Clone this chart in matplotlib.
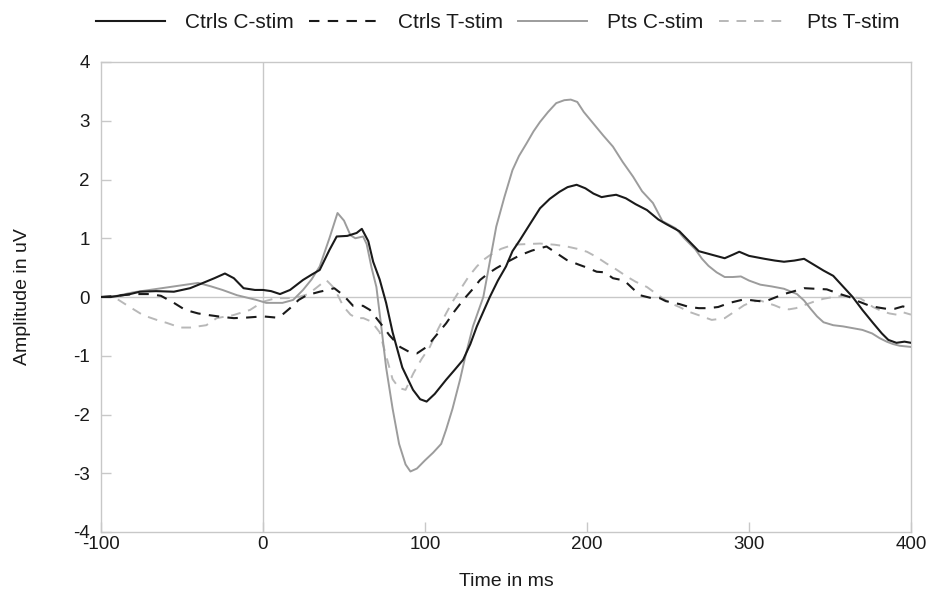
import matplotlib
matplotlib.use("Agg")
import matplotlib.pyplot as plt

plt.rcParams['font.family'] = ['Liberation Sans', 'DejaVu Sans']

# ---- data ----
t_ctrl_c = [-100, -94, -82, -76, -66, -55, -45, -37, -30, -23.5, -18, -12, -5, 0, 5, 10.5, 16.7, 24.7, 30, 35,
            41, 45.5, 52, 57.8, 61, 65, 68, 72, 76, 80, 86, 92.6, 97, 101, 106, 113, 118, 123.5, 128, 132,
            136, 140, 145, 150, 154, 158.6, 165, 171, 177, 183, 188, 193.6, 199, 204, 209, 213, 218, 224,
            230, 237, 244, 249, 257, 263, 269, 277, 285, 290, 294, 300, 309.6, 316, 321.6, 328, 334, 340,
            346, 352, 358, 364, 370, 376.5, 382, 386, 391, 396, 400]
v_ctrl_c = [0, 0, 0.05, 0.09, 0.1, 0.09, 0.15, 0.24, 0.32, 0.40, 0.32, 0.15, 0.12, 0.12, 0.1, 0.05, 0.12, 0.29,
            0.38, 0.46, 0.8, 1.03, 1.04, 1.09, 1.16, 0.95, 0.6, 0.3, -0.1, -0.6, -1.2, -1.58, -1.74, -1.78,
            -1.65, -1.41, -1.25, -1.07, -0.8, -0.5, -0.25, 0, 0.28, 0.52, 0.78, 0.97, 1.25, 1.51, 1.67, 1.79,
            1.87, 1.91, 1.85, 1.76, 1.70, 1.72, 1.74, 1.68, 1.58, 1.48, 1.32, 1.24, 1.12, 0.95, 0.78, 0.72,
            0.66, 0.72, 0.77, 0.70, 0.65, 0.62, 0.6, 0.62, 0.65, 0.55, 0.45, 0.36, 0.18, 0, -0.22, -0.44,
            -0.62, -0.73, -0.78, -0.76, -0.78]

t_ctrl_t = [-100, -90, -80, -70, -63, -55, -48, -40, -33, -25, -18, -10, 0, 8, 12, 16.7, 22, 27, 35, 40, 44,
            49.6, 55.6, 61.7, 66, 70, 74, 78, 84.6, 90, 95, 101, 107, 113, 118, 123.6, 129, 134, 139, 144,
            151, 158.6, 166, 175, 181, 187.5, 195, 200, 206, 211, 216, 223, 228, 232.7, 240, 245, 248.6, 257,
            263, 269, 275, 281, 288, 297, 303, 309.6, 316, 321.6, 328, 334, 341, 348, 355, 362, 368, 374.5,
            380, 384.6, 390, 395, 400]
v_ctrl_t = [0, 0.02, 0.05, 0.05, 0.02, -0.1, -0.22, -0.28, -0.31, -0.34, -0.36, -0.35, -0.33, -0.35, -0.3,
            -0.19, -0.05, 0.03, 0.09, 0.12, 0.15, 0.03, -0.15, -0.15, -0.22, -0.36, -0.5, -0.65, -0.85, -0.93,
            -0.96, -0.85, -0.65, -0.45, -0.25, -0.05, 0.12, 0.29, 0.4, 0.49, 0.6, 0.71, 0.79, 0.86, 0.75, 0.63,
            0.55, 0.5, 0.43, 0.42, 0.32, 0.28, 0.15, 0.03, -0.02, -0.02, -0.07, -0.12, -0.17, -0.19, -0.19,
            -0.17, -0.1, -0.04, -0.06, -0.08, -0.01, 0.05, 0.1, 0.15, 0.14, 0.13, 0.06, 0, -0.08, -0.15,
            -0.18, -0.2, -0.2, -0.16, -0.2]

t_pts_c = [-100, -90, -80, -70, -60, -50, -40, -32, -25, -16, -4, 2, 12, 18.6, 24.7, 30, 35, 41, 46, 50, 54,
           57, 61.8, 64, 67, 70, 73, 76, 80, 84, 88, 91, 95, 100, 105, 110, 113, 117, 121.6, 125, 129.6, 136,
           140, 144, 149, 154, 158, 162.8, 167, 171, 176, 181, 186, 190, 194, 198, 203.7, 210, 216, 222,
           228.4, 234, 240.7, 246.6, 250, 254.7, 260, 266.9, 271, 275, 280, 285, 290, 295, 300, 307, 314,
           321.6, 329.6, 334, 338, 342, 346, 352, 358, 364, 370, 376, 380.6, 385, 388.8, 393, 400]
v_pts_c = [0, 0.02, 0.08, 0.12, 0.16, 0.2, 0.24, 0.18, 0.12, 0.03, -0.05, -0.1, -0.1, -0.05, 0.12, 0.3, 0.52,
           1.0, 1.43, 1.3, 1.05, 1.0, 1.03, 0.9, 0.5, 0.17, -0.5, -1.2, -1.9, -2.5, -2.85, -2.97, -2.92,
           -2.78, -2.65, -2.5, -2.26, -1.9, -1.41, -1.0, -0.5, 0, 0.6, 1.2, 1.7, 2.16, 2.4, 2.62, 2.82, 2.98,
           3.15, 3.3, 3.35, 3.36, 3.32, 3.15, 2.96, 2.75, 2.56, 2.3, 2.05, 1.8, 1.6, 1.29, 1.24, 1.17, 1.0,
           0.81, 0.65, 0.53, 0.42, 0.34, 0.34, 0.35, 0.28, 0.21, 0.18, 0.14, 0.05, -0.06, -0.2, -0.33, -0.43,
           -0.48, -0.5, -0.53, -0.56, -0.62, -0.7, -0.76, -0.8, -0.83, -0.85]

t_pts_t = [-100, -92, -84, -74, -65.6, -59.5, -51, -45, -35, -28.6, -18.5, -8, 0, 8, 15, 22, 28, 34, 39, 44,
           49.6, 54, 57.8, 62, 67, 72, 76, 80, 84, 88, 92.8, 98, 103, 108, 113, 117, 121.6, 127, 132, 136,
           140, 147, 154.5, 162, 171, 180, 187.5, 194, 200, 206, 212, 218, 224.5, 230, 237, 244, 251, 257,
           262.8, 270, 277, 285, 291, 297, 302, 307, 311, 315.6, 320, 324.7, 329, 334, 340, 346, 352, 358,
           363, 368.5, 372, 376.5, 382, 386.7, 391, 395, 400]
v_pts_t = [0, 0, -0.14, -0.31, -0.39, -0.44, -0.52, -0.52, -0.48, -0.36, -0.31, -0.22, -0.08, -0.02, -0.02,
           0.0, 0.05, 0.18, 0.29, 0.15, -0.16, -0.3, -0.36, -0.36, -0.42, -0.6, -1.0, -1.4, -1.55, -1.58,
           -1.3, -1.05, -0.85, -0.55, -0.28, -0.08, 0.12, 0.35, 0.52, 0.63, 0.71, 0.82, 0.89, 0.9, 0.91,
           0.89, 0.86, 0.82, 0.77, 0.68, 0.57, 0.47, 0.35, 0.26, 0.17, 0.03, -0.1, -0.17, -0.25, -0.32,
           -0.39, -0.36, -0.25, -0.14, -0.08, -0.06, -0.1, -0.14, -0.19, -0.21, -0.19, -0.14, -0.08, -0.03,
           0.0, 0.02, 0.0, -0.02, -0.08, -0.17, -0.24, -0.28, -0.3, -0.26, -0.3]

series_labels = ["Ctrls C-stim", "Ctrls T-stim", "Pts C-stim", "Pts T-stim"]
x_ticks = [-100, 0, 100, 200, 300, 400]
y_ticks = [-4, -3, -2, -1, 0, 1, 2, 3, 4]

# ---- figure ----
fig = plt.figure(figsize=(9.29, 6.01), dpi=100)
ax = fig.add_axes([101 / 929, 1 - 532 / 601, 810 / 929, 470 / 601])

ref_col = "#c8c8c8"
ax.axhline(0, color=ref_col, lw=1.0, zorder=1)
ax.axvline(0, color=ref_col, lw=1.0, zorder=1)

dash = (0, (5, 4))
l1, = ax.plot(t_ctrl_c, v_ctrl_c, color="#1a1a1a", lw=1.5, zorder=5)
l2, = ax.plot(t_ctrl_t, v_ctrl_t, color="#1a1a1a", lw=1.5, ls=dash, zorder=4)
l3, = ax.plot(t_pts_c, v_pts_c, color="#9c9c9c", lw=1.4, zorder=3)
l4, = ax.plot(t_pts_t, v_pts_t, color="#b8b8b8", lw=1.4, ls=dash, zorder=2)

ax.set_xlim(-100, 400)
ax.set_ylim(-4, 4)
ax.set_xticks(x_ticks)
ax.set_yticks(y_ticks)
ax.set_xticklabels([str(v) for v in x_ticks])
ax.set_yticklabels([str(v) for v in y_ticks])

for s in ax.spines.values():
    s.set_color(ref_col)
    s.set_linewidth(1.0)
ax.tick_params(axis="both", direction="in", color=ref_col, length=7, width=1.0,
               labelsize=13.5, labelcolor="#1a1a1a")
ax.tick_params(axis="x", pad=3)
ax.tick_params(axis="y", pad=8)

ax.set_xlabel("Time in ms", fontsize=14, color="#1a1a1a", labelpad=14)
ax.set_ylabel("Amplitude in uV", fontsize=14, color="#1a1a1a", labelpad=30)

fig.legend([l1, l2, l3, l4], series_labels, loc="center", bbox_to_anchor=(498 / 929, 1 - 23 / 601),
           ncol=4, frameon=False, fontsize=15, handlelength=3.3, handletextpad=0.95,
           columnspacing=0.75, labelcolor="#1a1a1a")

fig.savefig("out.png", dpi=100)
